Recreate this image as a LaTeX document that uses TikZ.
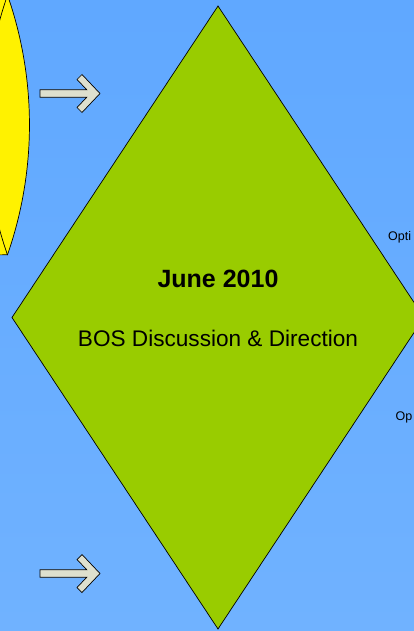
\documentclass[tikz,border=0pt]{standalone}
\usepackage{fontspec}
\setmainfont{Liberation Sans}
\usetikzlibrary{shapes.geometric}

\definecolor{skytop}{RGB}{96,168,255}
\definecolor{skymid}{RGB}{51,153,255}
\definecolor{skybot}{RGB}{112,178,255}
\definecolor{leafgreen}{RGB}{153,204,0}
\definecolor{arrowgrey}{RGB}{222,224,206}

\begin{document}
\begin{tikzpicture}[x=1pt, y=-1pt,
    phase/.style={diamond, draw=black, line width=0.7pt, fill=leafgreen, minimum width=412pt, minimum height=623pt, inner sep=0pt, outer sep=0pt},
    heading/.style={inner sep=0pt, anchor=base, text=black},
    optiontext/.style={inner sep=0pt, anchor=base west, text=black, font=\fontsize{12.5}{15}\selectfont},
    blockarrow/.pic={
        \draw[fill=arrowgrey, line width=0.7pt, line join=miter]
            (-60,-3.8) -- (-13.3,-3.8) -- (-23,-14) -- (-18,-19) -- (0,0)
            -- (-18,19) -- (-23,14) -- (-13.3,3.8) -- (-60,3.8) -- cycle;
    }
]
    \useasboundingbox (0,0) rectangle (414,631);
    \shade[top color=skytop, middle color=skymid, bottom color=skybot] (0,0) rectangle (414,631);

    % yellow lens on the left edge
    \fill[yellow] (7.5,-5) arc[start angle=-19.2, end angle=19.2, radius=395] -- (-10,255) -- (-10,-5) -- cycle;
    \draw[line width=0.7pt] (7.5,-5) arc[start angle=-19.2, end angle=19.2, radius=395] -- (-10,255);
    \draw[line width=0.7pt] (7.5,255) arc[start angle=160.8, end angle=199.2, radius=395];

    \pic at (100,93.5) {blockarrow};
    \pic at (100,573.5) {blockarrow};

    \node[phase] (meeting) at (218,317.5) {};
    \node[heading, font=\bfseries\fontsize{25}{30}\selectfont] (title) at (218,287.5) {June 2010};
    \node[heading, font=\fontsize{22.6}{27}\selectfont] (subtitle) at (218,346.7) {BOS Discussion \& Direction};

    \node[optiontext] (optA) at (388,240.7) {Opti};
    \node[optiontext] (optB) at (395.5,420.7) {Op};
\end{tikzpicture}
\end{document}
